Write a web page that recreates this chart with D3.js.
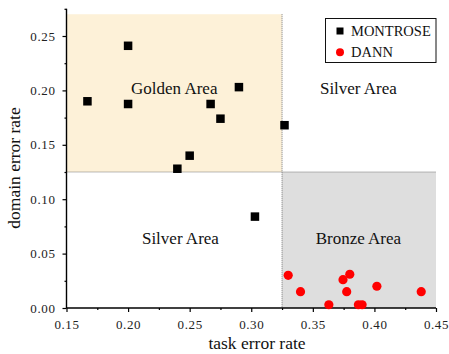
<!DOCTYPE html>
<html><head><meta charset="utf-8">
<script src="https://cdn.jsdelivr.net/npm/d3@7"></script>
<style>body{margin:0;background:#fff}svg{display:block}svg text{font-family:"Liberation Serif","DejaVu Serif",serif}</style>
</head><body>
<svg id="chart" width="449" height="354"></svg>
<script>
const montroseX = [0.167, 0.200, 0.200, 0.267, 0.275, 0.250, 0.240, 0.290, 0.327, 0.303];
const montroseY = [0.190, 0.241, 0.1875, 0.1875, 0.174, 0.140, 0.128, 0.203, 0.168, 0.084];
const dannX = [0.330, 0.340, 0.363, 0.3745, 0.380, 0.3775, 0.387, 0.390, 0.402, 0.438];
const dannY = [0.030, 0.015, 0.003, 0.026, 0.031, 0.015, 0.003, 0.003, 0.020, 0.015];
const xTicks = [0.15, 0.20, 0.25, 0.30, 0.35, 0.40, 0.45];
const yTicks = [0.00, 0.05, 0.10, 0.15, 0.20, 0.25];
const xMinor = [0.175, 0.225, 0.275, 0.325, 0.375, 0.425];
const yMinor = [0.025, 0.075, 0.125, 0.175, 0.225, 0.275];
const regionLabels = ["Golden Area", "Silver Area", "Silver Area", "Bronze Area"];
const regionLabelX = [0.2375, 0.387, 0.2425, 0.387];
const regionLabelY = [0.197, 0.197, 0.059, 0.059];
const seriesNames = ["MONTROSE", "DANN"];
const xThreshold = 0.325, yThreshold = 0.125, yFillTop = 0.27;

const svg = d3.select("#chart");
const serif = "Liberation Serif, DejaVu Serif, serif";
const x = d3.scaleLinear().domain([0.15, 0.45]).range([66.5, 436]);
const y = d3.scaleLinear().domain([0, 0.275]).range([308, 8.8]);

svg.append("rect").attr("x", x(0.15)).attr("y", y(yFillTop))
  .attr("width", x(xThreshold) - x(0.15)).attr("height", y(yThreshold) - y(yFillTop))
  .attr("fill", "#fdf1d8");
svg.append("rect").attr("x", x(xThreshold)).attr("y", y(yThreshold))
  .attr("width", x(0.45) - x(xThreshold)).attr("height", y(0) - y(yThreshold))
  .attr("fill", "#dedede");
svg.append("line").attr("x1", x(xThreshold)).attr("x2", x(xThreshold))
  .attr("y1", y(yFillTop)).attr("y2", y(0))
  .attr("stroke", "#777").attr("stroke-width", 1).attr("stroke-dasharray", "1,1");
svg.append("line").attr("x1", x(0.15)).attr("x2", x(0.45))
  .attr("y1", y(yThreshold)).attr("y2", y(yThreshold))
  .attr("stroke", "#777").attr("stroke-width", 1).attr("stroke-dasharray", "1,1");

svg.selectAll("text.region").data(regionLabels).join("text")
  .attr("class", "region")
  .attr("x", (d, i) => x(regionLabelX[i])).attr("y", (d, i) => y(regionLabelY[i]))
  .attr("text-anchor", "middle").style("font-family", serif).style("font-size", "17px")
  .attr("fill", "#111").text(d => d);

const fmt = d3.format(".2f");
const xAxis = d3.axisBottom(x).tickValues(xTicks).tickFormat(fmt).tickSize(4).tickPadding(8);
const xMinorAxis = d3.axisBottom(x).tickValues(xMinor).tickFormat("").tickSize(2);
const yAxis = d3.axisLeft(y).tickValues(yTicks).tickFormat(fmt).tickSize(4).tickPadding(7);
const yMinorAxis = d3.axisLeft(y).tickValues(yMinor).tickFormat("").tickSize(2);

function style(g) {
  g.select(".domain").remove();
  g.selectAll("line").attr("stroke", "#000").attr("stroke-width", 1.2);
  g.selectAll("text").style("font-family", serif).style("font-size", "13px").attr("fill", "#222")
    .style("letter-spacing", "0.6px");
}
svg.append("g").attr("transform", `translate(0,${y(0)})`).call(xAxis).call(style);
svg.append("g").attr("transform", `translate(0,${y(0)})`).call(xMinorAxis).call(style);
svg.append("g").attr("transform", `translate(${x(0.15)},0)`).call(yAxis).call(style);
svg.append("g").attr("transform", `translate(${x(0.15)},0)`).call(yMinorAxis).call(style);
svg.append("line").attr("x1", x(0.15)).attr("x2", x(0.45)).attr("y1", y(0)).attr("y2", y(0))
  .attr("stroke", "#000").attr("stroke-width", 1.4);
svg.append("line").attr("x1", x(0.15)).attr("x2", x(0.15)).attr("y1", y(0)).attr("y2", y(0.275))
  .attr("stroke", "#000").attr("stroke-width", 1.4);

svg.append("text").attr("x", 257).attr("y", 349).attr("text-anchor", "middle")
  .style("font-family", serif).style("font-size", "17.5px").attr("fill", "#111").text("task error rate");
svg.append("text").attr("transform", "translate(20,168) rotate(-90)").attr("text-anchor", "middle")
  .style("font-family", serif).style("font-size", "17.5px").attr("fill", "#111").text("domain error rate");

const sq = 8.5;
svg.selectAll("rect.montrose").data(montroseX).join("rect").attr("class", "montrose")
  .attr("x", (d) => x(d) - sq / 2).attr("y", (d, i) => y(montroseY[i]) - sq / 2)
  .attr("width", sq).attr("height", sq).attr("fill", "#000");
svg.selectAll("circle.dann").data(dannX).join("circle").attr("class", "dann")
  .attr("cx", d => x(d)).attr("cy", (d, i) => y(dannY[i])).attr("r", 4.6).attr("fill", "#ff0000");

const lg = svg.append("g");
lg.append("rect").attr("x", 325.5).attr("y", 18.5).attr("width", 110.5).attr("height", 44)
  .attr("fill", "#fff").attr("stroke", "#111").attr("stroke-width", 1);
lg.append("rect").attr("x", 336.5).attr("y", 27.5).attr("width", 7).attr("height", 7).attr("fill", "#000");
lg.append("circle").attr("cx", 340).attr("cy", 52.3).attr("r", 4).attr("fill", "#ff0000");
lg.selectAll("text.leg").data(seriesNames).join("text").attr("class", "leg")
  .attr("x", 351).attr("y", (d, i) => 36 + i * 21)
  .style("font-family", serif).style("font-size", "14.5px").attr("fill", "#111").text(d => d);
</script>
</body></html>
